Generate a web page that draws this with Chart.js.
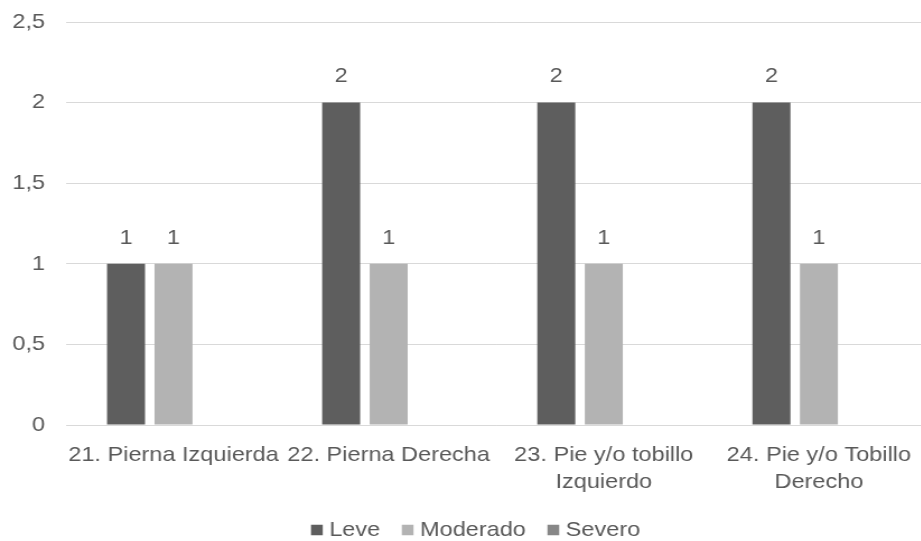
<!DOCTYPE html>
<html>
<head>
<meta charset="utf-8">
<script src="https://cdn.jsdelivr.net/npm/chart.js@4/dist/chart.umd.min.js"></script>
<style>
  html, body { margin: 0; padding: 0; background: #ffffff; overflow: hidden; width: 921px; height: 541px; }
  #wrap { position: absolute; left: 0; top: 0; width: 832px; height: 541px; transform: scaleX(1.12); transform-origin: 0 0; }
</style>
</head>
<body>
<div id="wrap"><canvas id="chart"></canvas></div>
<script>
// Categories and series
const categories = [
  ['21. Pierna Izquierda'],
  ['22. Pierna Derecha'],
  ['23. Pie y/o tobillo', 'Izquierdo'],
  ['24. Pie y/o Tobillo', 'Derecho']
];
const leve = [1, 2, 2, 2];
const moderado = [1, 1, 1, 1];
const severo = [null, null, null, null];
const seriesNames = ['Leve', 'Moderado', 'Severo'];
const yTicks = [0, 0.5, 1, 1.5, 2, 2.5];

const FONT = "'Liberation Sans', Arial, sans-serif";
const TEXT = '#595959';

const fmt = v => String(v).replace('.', ',');

// Value labels above each bar
const valueLabels = {
  id: 'valueLabels',
  afterDatasetsDraw(chart) {
    const ctx = chart.ctx;
    ctx.save();
    ctx.font = '21px ' + FONT;
    ctx.fillStyle = TEXT;
    ctx.textAlign = 'center';
    ctx.textBaseline = 'middle';
    chart.data.datasets.forEach((ds, i) => {
      const meta = chart.getDatasetMeta(i);
      if (meta.hidden) return;
      meta.data.forEach((el, j) => {
        const v = ds.data[j];
        if (v === null || v === undefined) return;
        ctx.fillText(fmt(v), el.x, el.y - 26);
      });
    });
    ctx.restore();
  }
};

// Nudge the legend row to the right of the canvas centre
const legendOffset = {
  id: 'legendOffset',
  afterLayout(chart) {
    const lg = chart.legend;
    if (!lg) return;
    lg.left += 13.4;
    lg.right += 13.4;
  }
};

new Chart(document.getElementById('chart'), {
  type: 'bar',
  data: {
    labels: categories,
    datasets: [
      { label: seriesNames[0], data: leve, backgroundColor: '#5e5e5e' },
      { label: seriesNames[1], data: moderado, backgroundColor: '#b3b3b3' },
      { label: seriesNames[2], data: severo, backgroundColor: '#878787' }
    ]
  },
  options: {
    responsive: true,
    maintainAspectRatio: false,
    animation: false,
    devicePixelRatio: 1,
    layout: { padding: { left: 0, right: 4.8, top: 22, bottom: -9.5 } },
    datasets: {
      bar: { categoryPercentage: 0.6625, barPercentage: 0.8, borderWidth: 0 }
    },
    scales: {
      x: {
        grid: { display: false, drawTicks: false },
        border: { display: false },
        ticks: {
          autoSkip: false,
          maxRotation: 0,
          minRotation: 0,
          padding: 16.5,
          color: TEXT,
          font: { family: FONT, size: 21, lineHeight: 1.286 }
        },
        afterFit(scale) {
          scale.height = 70.5;
          scale.paddingLeft = 0;
          scale.paddingRight = 0;
        }
      },
      y: {
        min: 0,
        max: 2.5,
        afterBuildTicks(scale) { scale.ticks = yTicks.map(v => ({ value: v })); },
        grid: { color: '#d9d9d9', lineWidth: 1, drawTicks: false },
        border: { display: false },
        ticks: {
          padding: 18.7,
          color: TEXT,
          font: { family: FONT, size: 21 },
          callback: v => fmt(v)
        },
        afterFit(scale) {
          scale.width = 58.9;
          scale.paddingTop = 0;
          scale.paddingBottom = 0;
        }
      }
    },
    plugins: {
      legend: {
        position: 'bottom',
        labels: {
          usePointStyle: true,
          pointStyle: 'rect',
          boxWidth: 1,
          boxHeight: 10.5,
          padding: 24,
          color: TEXT,
          font: { family: FONT, size: 21 }
        }
      },
      tooltip: { enabled: false }
    }
  },
  plugins: [valueLabels, legendOffset]
});
</script>
</body>
</html>
